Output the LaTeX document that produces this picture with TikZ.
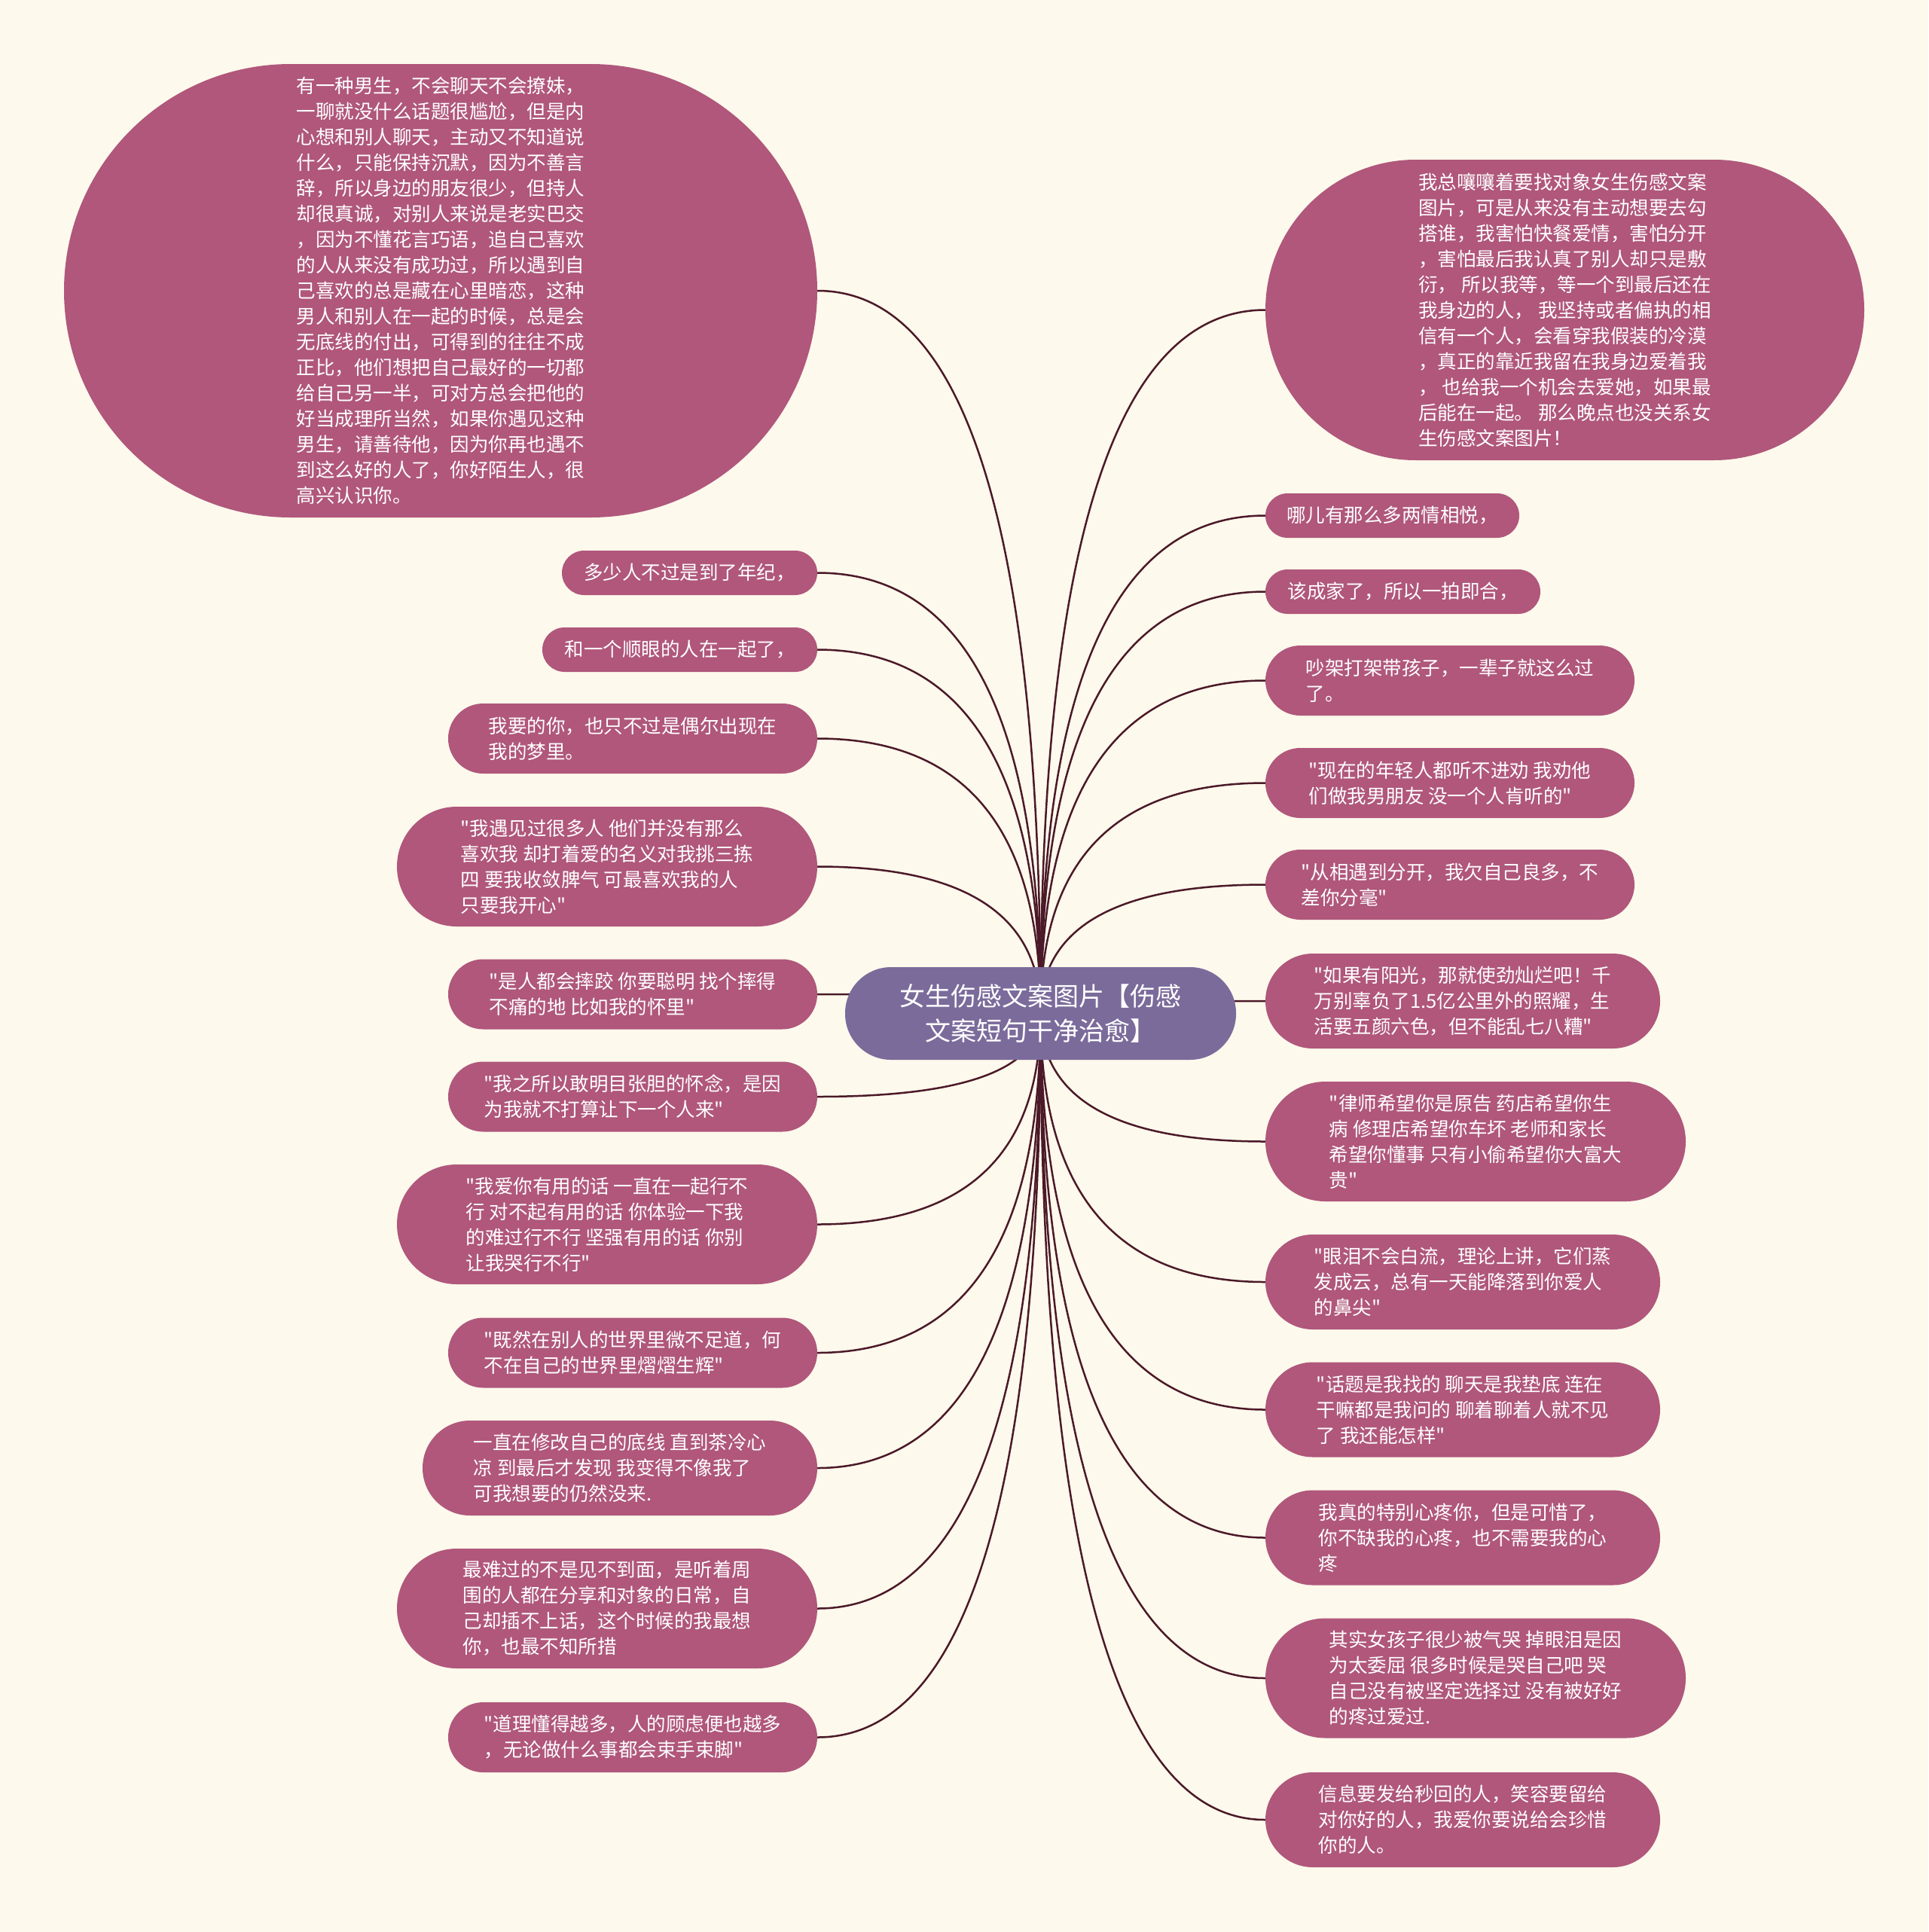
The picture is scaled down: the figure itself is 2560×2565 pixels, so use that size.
\documentclass[tikz,border=0pt]{standalone}
\usepackage{fontspec}
\setmainfont{Noto Sans CJK SC}[Ligatures=TeXOff]
\usetikzlibrary{calc}
\definecolor{bgc}{RGB}{253,249,236}
\definecolor{leafc}{RGB}{176,87,123}
\definecolor{rootc}{RGB}{123,107,155}
\definecolor{linec}{RGB}{75,25,40}
\pgfdeclarelayer{bg}
\pgfsetlayers{bg,main}
\begin{document}
\begin{tikzpicture}[x=1pt,y=-1pt,
  leaf/.style 2 args={fill=leafc, draw=none, text=white,
    font=\fontsize{25.5pt}{34pt}\selectfont, align=left, inner sep=0pt,
    minimum width=#1pt, minimum height=#2pt, rounded corners=0.5*#2pt},
  rootnode/.style={fill=rootc, draw=none, text=white,
    font=\fontsize{34pt}{46pt}\selectfont, align=center, inner sep=0pt,
    minimum width=519pt, minimum height=123pt, rounded corners=61pt},
  conn/.style={draw=linec, line width=2.5pt},
  curve/.style={to path={.. controls ($(\tikztostart)!0.6667!(\tikztostart |- \tikztotarget)$) and ($(\tikztotarget)!0.6667!(\tikztostart |- \tikztotarget)$) .. (\tikztotarget)}}
]
\useasboundingbox (0,0) rectangle (2560,2565);

\node[rootnode] (root) at (1381.5,1345.5) {女生伤感文案图片【伤感\\文案短句干净治愈】};

% left side
\node[leaf={1000}{602}] (L0) at (585,386) {有一种男生，不会聊天不会撩妹，\\一聊就没什么话题很尴尬，但是内\\心想和别人聊天，主动又不知道说\\什么，只能保持沉默，因为不善言\\辞，所以身边的朋友很少，但持人\\却很真诚，对别人来说是老实巴交\\，因为不懂花言巧语，追自己喜欢\\的人从来没有成功过，所以遇到自\\己喜欢的总是藏在心里暗恋，这种\\男人和别人在一起的时候，总是会\\无底线的付出，可得到的往往不成\\正比，他们想把自己最好的一切都\\给自己另一半，可对方总会把他的\\好当成理所当然，如果你遇见这种\\男生，请善待他，因为你再也遇不\\到这么好的人了，你好陌生人，很\\高兴认识你。};
\node[leaf={339}{59}] (L1) at (915.5,760.5) {多少人不过是到了年纪，};
\node[leaf={365}{59}] (L2) at (902.5,862.5) {和一个顺眼的人在一起了，};
\node[leaf={490}{93}] (L3) at (840,980.5) {我要的你，也只不过是偶尔出现在\\我的梦里。};
\node[leaf={558}{159}] (L4) at (806,1150.5) {"我遇见过很多人 他们并没有那么\\喜欢我 却打着爱的名义对我挑三拣\\四 要我收敛脾气 可最喜欢我的人\\只要我开心"};
\node[leaf={490}{93}] (L5) at (840,1320) {"是人都会摔跤 你要聪明 找个摔得\\不痛的地 比如我的怀里"};
\node[leaf={490}{93}] (L6) at (840,1456) {"我之所以敢明目张胆的怀念，是因\\为我就不打算让下一个人来"};
\node[leaf={558}{159}] (L7) at (806,1625.5) {"我爱你有用的话 一直在一起行不\\行 对不起有用的话 你体验一下我\\的难过行不行 坚强有用的话 你别\\让我哭行不行"};
\node[leaf={490}{93}] (L8) at (840,1796) {"既然在别人的世界里微不足道，何\\不在自己的世界里熠熠生辉"};
\node[leaf={524}{126}] (L9) at (823,1949) {一直在修改自己的底线 直到茶冷心\\凉 到最后才发现 我变得不像我了\\可我想要的仍然没来.};
\node[leaf={558}{159}] (L10) at (806,2135.5) {最难过的不是见不到面，是听着周\\围的人都在分享和对象的日常，自\\己却插不上话，这个时候的我最想\\你，也最不知所措};
\node[leaf={490}{93}] (L11) at (840,2306.5) {"道理懂得越多，人的顾虑便也越多\\，无论做什么事都会束手束脚"};

% right side
\node[leaf={795}{399}] (R0) at (2077.5,411.5) {我总嚷嚷着要找对象女生伤感文案\\图片，可是从来没有主动想要去勾\\搭谁，我害怕快餐爱情，害怕分开\\，害怕最后我认真了别人却只是敷\\衍， 所以我等，等一个到最后还在\\我身边的人， 我坚持或者偏执的相\\信有一个人，会看穿我假装的冷漠\\，真正的靠近我留在我身边爱着我\\， 也给我一个机会去爱她，如果最\\后能在一起。 那么晚点也没关系女\\生伤感文案图片！};
\node[leaf={337}{59}] (R1) at (1848.5,684.5) {哪儿有那么多两情相悦，};
\node[leaf={365}{59}] (R2) at (1862.5,785.5) {该成家了，所以一拍即合，};
\node[leaf={490}{93}] (R3) at (1925,903.5) {吵架打架带孩子，一辈子就这么过\\了。};
\node[leaf={490}{93}] (R4) at (1925,1039.5) {"现在的年轻人都听不进劝 我劝他\\们做我男朋友 没一个人肯听的"};
\node[leaf={490}{93}] (R5) at (1925,1174.5) {"从相遇到分开，我欠自己良多，不\\差你分毫"};
\node[leaf={524}{126}] (R6) at (1942,1329) {"如果有阳光，那就使劲灿烂吧！千\\万别辜负了1.5亿公里外的照耀，生\\活要五颜六色，但不能乱七八糟"};
\node[leaf={558}{159}] (R7) at (1959,1515.5) {"律师希望你是原告 药店希望你生\\病 修理店希望你车坏 老师和家长\\希望你懂事 只有小偷希望你大富大\\贵"};
\node[leaf={524}{126}] (R8) at (1942,1702) {"眼泪不会白流，理论上讲，它们蒸\\发成云，总有一天能降落到你爱人\\的鼻尖"};
\node[leaf={524}{126}] (R9) at (1942,1871.5) {"话题是我找的 聊天是我垫底 连在\\干嘛都是我问的 聊着聊着人就不见\\了 我还能怎样"};
\node[leaf={524}{126}] (R10) at (1942,2041.5) {我真的特别心疼你，但是可惜了，\\你不缺我的心疼，也不需要我的心\\疼};
\node[leaf={558}{159}] (R11) at (1959,2228) {其实女孩子很少被气哭 掉眼泪是因\\为太委屈 很多时候是哭自己吧 哭\\自己没有被坚定选择过 没有被好好\\的疼过爱过.};
\node[leaf={524}{126}] (R12) at (1942,2416) {信息要发给秒回的人，笑容要留给\\对你好的人，我爱你要说给会珍惜\\你的人。};

\begin{pgfonlayer}{bg}
\fill[bgc] (0,0) rectangle (2560,2565);
\foreach \n in {L0,L1,L2,L3,L4,L5,L6,L7,L8,L9,L10,L11}
  \draw[conn] (root.center) to[curve] (\n.east);
\foreach \n in {R0,R1,R2,R3,R4,R5,R6,R7,R8,R9,R10,R11,R12}
  \draw[conn] (root.center) to[curve] (\n.west);
\end{pgfonlayer}
\end{tikzpicture}
\end{document}
